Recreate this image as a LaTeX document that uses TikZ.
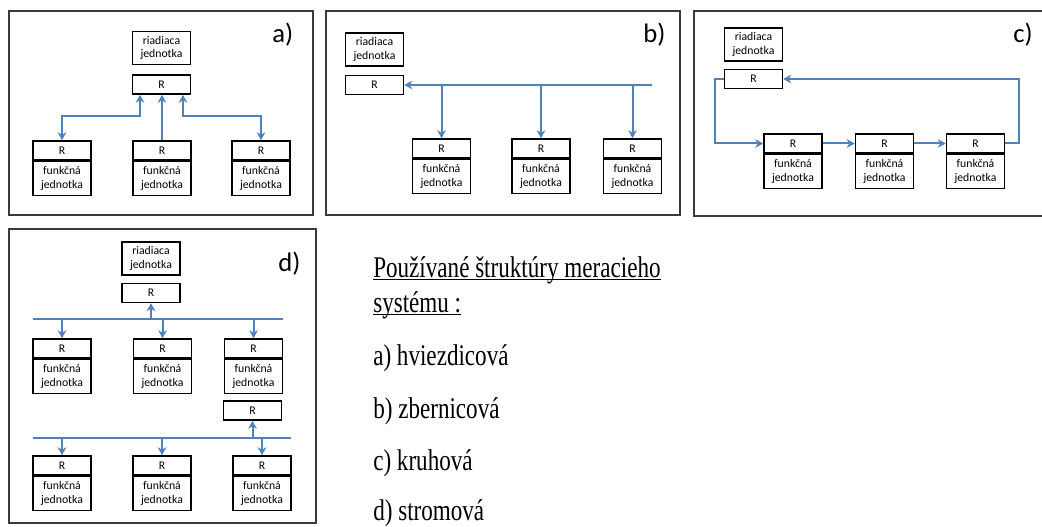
\documentclass[tikz,border=0pt]{standalone}
\usepackage{fontspec}
\usetikzlibrary{arrows.meta,calc}
\newfontfamily\boxfont{Carlito}
\newfontfamily\capfont[FakeStretch=0.77]{Liberation Serif}
\definecolor{linkblue}{HTML}{4F81BD}
\definecolor{framec}{HTML}{3A3A3A}

% underline set close to the baseline, word-processor style
\newsavebox\ulbox
\newcommand\ultext[1]{\sbox\ulbox{#1}\rlap{\rule[-2.4pt]{\wd\ulbox}{0.9pt}}\usebox\ulbox}

\tikzset{
  panel/.style={draw=framec, line width=1.5pt},
  boxtext/.style={font=\boxfont\fontsize{8.8}{10.2}\selectfont},
  ctrlbox/.style={draw, line width=1.2pt, minimum width=43.5pt, minimum height=25pt,
    inner sep=0pt, align=center, boxtext},
  rbox/.style={draw, line width=1.2pt, minimum width=43.5pt, minimum height=14.25pt,
    inner sep=0pt, boxtext},
  fupart/.style={draw, line width=1.2pt, minimum width=43.5pt, minimum height=25.5pt,
    inner sep=0pt, align=center, anchor=north, boxtext},
  conn/.style={draw=linkblue, line width=1.5pt},
  tag/.style={font=\boxfont\fontsize{20}{24}\selectfont, anchor=base west, inner sep=0pt},
  caption/.style={font=\capfont\fontsize{22.5}{27}\selectfont, anchor=base west, inner sep=0pt},
}

% functional unit: R part on top, "funkčná jednotka" part below
% #1 name, #2 centre x, #3 top y
\newcommand\funit[3]{%
  \node[rbox] (#1r) at (#2,#3+9.5) {R};
  \node[fupart] (#1f) at (#1r.south) {funkčná\\jednotka};
}

\begin{document}
\begin{tikzpicture}[x=0.75pt,y=-0.75pt,>={Stealth[length=6pt,width=6.5pt]}]
\useasboundingbox (0,0) rectangle (1042,527);

% ---------- a) star ----------
\draw[panel] (9,11) rectangle (313,215);
\node[tag] (atag) at (272,43) {a)};
\node[ctrlbox] (actrl) at (161.5,48) {riadiaca\\jednotka};
\node[rbox] (ar) at (161.5,84.5) {R};
\funit{a1}{62}{141}
\funit{a2}{162}{141}
\funit{a3}{261}{141}
\draw[conn,<->] ($(ar.south)+(-21.5,0)$) |- ($(a1r.north)+(0,-24)$) -- (a1r.north);
\draw[conn,->] (a2r.north) -- (a2r.north |- ar.south);
\draw[conn,<->] ($(ar.south)+(21.5,0)$) |- ($(a3r.north)+(0,-24)$) -- (a3r.north);

% ---------- b) bus ----------
\draw[panel] (326,11) rectangle (680,215);
\node[tag] (btag) at (643,43) {b)};
\node[ctrlbox] (bctrl) at (374.5,49.5) {riadiaca\\jednotka};
\node[rbox] (br) at (374.5,85) {R};
\funit{b1}{441.5}{139}
\funit{b2}{541}{139}
\funit{b3}{632.5}{139}
\coordinate (bbus) at (652,86);
\draw[conn,<-] (br.east) -- (br.east -| bbus);
\draw[conn,->] (b1r.north |- br.east) -- (b1r.north);
\draw[conn,->] (b2r.north |- br.east) -- (b2r.north);
\draw[conn,->] (b3r.north |- br.east) -- (b3r.north);

% ---------- c) ring ----------
\draw[panel] (694,11) rectangle (1050,216);
\node[tag] (ctag) at (1013,43) {c)};
\node[ctrlbox] (cctrl) at (753.5,44.5) {riadiaca\\jednotka};
\node[rbox] (cr) at (753.5,79) {R};
\funit{c1}{793}{134}
\funit{c2}{884.5}{134}
\funit{c3}{975.5}{134}
\draw[conn,->] (cr.west) -- ++(-9,0) |- (c1r.west);
\draw[conn,->] (c1r.east) -- (c2r.west);
\draw[conn,->] (c2r.east) -- (c3r.west);
\draw[conn,->] (c3r.east) -- ++(14,0) |- (cr.east);

% ---------- d) tree ----------
\draw[panel] (9,229) rectangle (316,523);
\node[tag] (dtag) at (278,272) {d)};
\node[ctrlbox] (dctrl) at (151,258.5) {riadiaca\\jednotka};
\node[rbox] (dr) at (151,293) {R};
\funit{d1}{62}{339}
\funit{d2}{162.5}{339}
\funit{d3}{253.5}{339}
\node[rbox] (dr2) at (252.5,410.5) {R};
\funit{d4}{62}{456}
\funit{d5}{162}{456}
\funit{d6}{262}{456}
\coordinate (dbus1w) at (33,319);
\coordinate (dbus1e) at (283,319);
\coordinate (dbus2w) at (33,438);
\coordinate (dbus2e) at (291,438);
\draw[conn] (dbus1w) -- (dbus1e);
\draw[conn,->] (dr.south |- dbus1w) -- (dr.south);
\draw[conn,->] (d1r.north |- dbus1w) -- (d1r.north);
\draw[conn,->] (d2r.north |- dbus1w) -- (d2r.north);
\draw[conn,->] (d3r.north |- dbus1w) -- (d3r.north);
\draw[conn] (dbus2w) -- (dbus2e);
\draw[conn,->] (dr2.south |- dbus2w) -- (dr2.south);
\draw[conn,->] (d4r.north |- dbus2w) -- (d4r.north);
\draw[conn,->] (d5r.north |- dbus2w) -- (d5r.north);
\draw[conn,->] (d6r.north |- dbus2w) -- (d6r.north);

% ---------- caption ----------
\node[caption] (t1) at (373,277) {\ultext{Používané štruktúry meracieho}};
\node[caption] (t2) at (373,312) {\ultext{systému :}};
\node[caption] (t3) at (373,365) {a) hviezdicová};
\node[caption] (t4) at (373,418) {b) zbernicová};
\node[caption] (t5) at (373,470) {c) kruhová};
\node[caption] (t6) at (373,520) {d) stromová};
\end{tikzpicture}
\end{document}
